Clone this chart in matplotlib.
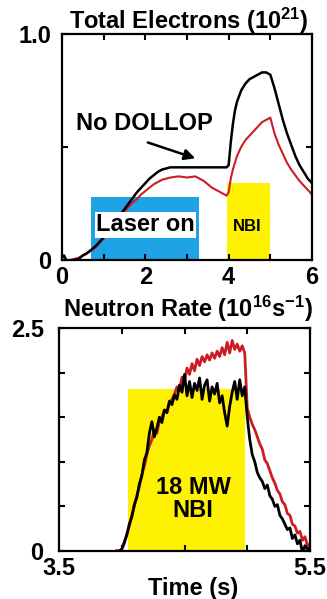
import matplotlib
matplotlib.use("Agg")
import matplotlib.pyplot as plt
import numpy as np

plt.rcParams['font.family'] = ['Liberation Sans', 'DejaVu Sans']
plt.rcParams['font.weight'] = 'bold'
plt.rcParams['mathtext.fontset'] = 'custom'
plt.rcParams['mathtext.bf'] = 'Liberation Sans:bold'
plt.rcParams['mathtext.rm'] = 'Liberation Sans:bold'
plt.rcParams['mathtext.default'] = 'bf'

# --- total electrons (10^21) vs time (s) ---
t_elec = [0.0, 0.05, 0.1, 0.2, 0.3, 0.4, 0.5, 0.6, 0.7, 0.8,
          0.9, 1.0, 1.1, 1.2, 1.3, 1.4, 1.5, 1.6, 1.7, 1.8,
          1.9, 2.0, 2.1, 2.2, 2.3, 2.4, 2.5, 2.6, 2.8, 3.0,
          3.2, 3.4, 3.6, 3.8, 3.95, 4.0, 4.05, 4.1, 4.15, 4.2,
          4.3, 4.4, 4.5, 4.6, 4.7, 4.8, 4.9, 5.0, 5.1, 5.2,
          5.3, 5.4, 5.5, 5.6, 5.7, 5.8, 5.9, 6.0]
elec_no_dollop = [0.01, 0.02, 0.0, -0.005, 0.0, 0.005, 0.02, 0.03, 0.045, 0.06,
                  0.08, 0.10, 0.125, 0.15, 0.175, 0.20, 0.225, 0.25, 0.275, 0.30,
                  0.32, 0.34, 0.36, 0.375, 0.39, 0.40, 0.405, 0.41, 0.41, 0.41,
                  0.41, 0.41, 0.41, 0.41, 0.41, 0.42, 0.52, 0.60, 0.66, 0.70,
                  0.75, 0.78, 0.80, 0.81, 0.82, 0.83, 0.83, 0.82, 0.76, 0.69,
                  0.62, 0.56, 0.51, 0.46, 0.42, 0.39, 0.36, 0.34]
elec_dollop = [0.0, 0.0, 0.0, 0.0, 0.005, 0.01, 0.02, 0.03, 0.04, 0.055,
               0.075, 0.095, 0.12, 0.145, 0.17, 0.19, 0.215, 0.235, 0.255, 0.27,
               0.29, 0.305, 0.32, 0.335, 0.345, 0.355, 0.36, 0.365, 0.37, 0.365,
               0.37, 0.35, 0.32, 0.30, 0.285, 0.30, 0.36, 0.40, 0.43, 0.46,
               0.50, 0.53, 0.55, 0.57, 0.59, 0.61, 0.62, 0.63, 0.56, 0.51,
               0.47, 0.43, 0.40, 0.375, 0.35, 0.33, 0.31, 0.29]

# --- neutron rate (10^16 /s), sampled every 20 ms from 3.96 s ---
t_neut = np.round(np.arange(3.96, 5.501, 0.02), 2)
neut_no_dollop = [0.0, 0.0, 0.02, 0.10, 0.18, 0.30, 0.38, 0.52, 0.60, 0.75,
                  0.84, 1.02, 1.10, 1.32, 1.45, 1.28, 1.38, 1.50, 1.44, 1.58,
                  1.55, 1.68, 1.64, 1.75, 1.70, 1.86, 1.78, 1.98, 1.74, 1.90,
                  1.72, 1.88, 1.80, 1.94, 1.70, 1.86, 1.92, 1.68, 1.84, 1.76,
                  1.88, 1.66, 1.74, 1.55, 1.40, 1.62, 1.78, 1.90, 1.70, 1.92,
                  1.74, 1.84, 1.50, 1.25, 1.08, 1.00, 0.88, 0.82, 0.78, 0.70,
                  0.74, 0.62, 0.58, 0.50, 0.52, 0.40, 0.36, 0.30, 0.24, 0.26,
                  0.14, 0.18, 0.08, 0.12, -0.02, 0.06, 0.02, 0.04]
neut_dollop = [0.0, 0.0, 0.02, 0.08, 0.18, 0.28, 0.40, 0.50, 0.62, 0.72,
               0.86, 0.95, 1.08, 1.18, 1.25, 1.36, 1.32, 1.46, 1.50, 1.58,
               1.56, 1.66, 1.70, 1.76, 1.84, 1.80, 1.95, 1.90, 2.05, 1.98,
               2.10, 2.02, 2.15, 2.08, 2.18, 2.12, 2.20, 2.14, 2.22, 2.16,
               2.24, 2.18, 2.28, 2.20, 2.34, 2.22, 2.36, 2.26, 2.32, 2.24,
               2.30, 2.22, 1.60, 1.50, 1.42, 1.36, 1.28, 1.20, 1.14, 1.02,
               0.98, 0.90, 0.82, 0.76, 0.68, 0.64, 0.55, 0.52, 0.42, 0.40,
               0.30, 0.28, 0.20, 0.22, 0.12, 0.16, 0.06, 0.08]

# heating / laser windows (start, end, height)
laser_window = (0.7, 3.3, 0.28)
nbi_window_top = (3.95, 5.0, 0.34)
nbi_window_bottom = (4.05, 4.98, 1.82)

RED = '#cc1d24'
BLUE = '#1ea3e6'
YELLOW = '#fff200'
FS = 17

fig = plt.figure(figsize=(3.27, 5.99), dpi=100)
ax1 = fig.add_axes([62 / 327, 1 - 260 / 599, 250 / 327, 226 / 599])
ax2 = fig.add_axes([59 / 327, 1 - 551 / 599, 251 / 327, 223 / 599])

# top panel
ax1.axvspan(laser_window[0], laser_window[1], ymax=laser_window[2], color=BLUE, lw=0)
ax1.axvspan(nbi_window_top[0], nbi_window_top[1], ymax=nbi_window_top[2], color=YELLOW, lw=0)
ax1.plot(t_elec, elec_dollop, color=RED, lw=1.5)
ax1.plot(t_elec, elec_no_dollop, color='black', lw=1.8)
ax1.set_xlim(0, 6)
ax1.set_ylim(0, 1.0)
ax1.set_xticks([0, 1, 2, 3, 4, 5, 6])
ax1.set_xticklabels(['0', '', '2', '', '4', '', '6'])
ax1.set_yticks([0, 0.5, 1.0])
ax1.set_yticklabels(['0', '', '1.0'])
ax1.text(2.0, 0.155, 'Laser on', ha='center', va='center', fontsize=FS,
         fontweight='bold', bbox=dict(facecolor='white', edgecolor='none', pad=1.0))
ax1.text(4.45, 0.15, 'NBI', ha='center', va='center', fontsize=12, fontweight='bold')
ax1.text(1.97, 0.605, 'No DOLLOP', ha='center', va='center', fontsize=FS, fontweight='bold')
ax1.annotate('', xy=(3.2, 0.45), xytext=(2.06, 0.52),
             arrowprops=dict(arrowstyle='-|>', color='black', lw=1.8,
                             mutation_scale=16, shrinkA=0, shrinkB=0))

# bottom panel
ax2.axvspan(nbi_window_bottom[0], nbi_window_bottom[1], ymax=nbi_window_bottom[2] / 2.5,
            color=YELLOW, lw=0)
ax2.plot(t_neut, neut_dollop, color=RED, lw=2)
ax2.plot(t_neut, neut_no_dollop, color='black', lw=2)
ax2.set_xlim(3.5, 5.5)
ax2.set_ylim(0, 2.5)
ax2.set_xticks([3.5, 4.0, 4.5, 5.0, 5.5])
ax2.set_xticklabels(['3.5', '', '', '', '5.5'])
ax2.set_yticks([0, 0.5, 1.0, 1.5, 2.0, 2.5])
ax2.set_yticklabels(['0', '', '', '', '', '2.5'])
ax2.text(4.57, 0.58, '18 MW\nNBI', ha='center', va='center', fontsize=FS,
         fontweight='bold', linespacing=1.0)

for ax in (ax1, ax2):
    for s in ax.spines.values():
        s.set_linewidth(1.6)
    ax.tick_params(direction='in', top=True, right=True, length=4, width=1.5,
                   labelsize=FS)
    ax.tick_params(axis='x', pad=4)
ax1.tick_params(axis='y', pad=8)
ax2.tick_params(axis='y', pad=11)

fig.text(0.576, 1 - 21 / 599, 'Total Electrons (10$^{21}$)', ha='center', va='center',
         fontsize=FS, fontweight='bold')
fig.text(0.576, 1 - 309 / 599, 'Neutron Rate (10$^{16}$s$^{-1}$)', ha='center', va='center',
         fontsize=FS, fontweight='bold')
fig.text(193 / 327, 1 - 588 / 599, 'Time (s)', ha='center', va='center',
         fontsize=FS, fontweight='bold')

fig.savefig('out.png', dpi=100)
